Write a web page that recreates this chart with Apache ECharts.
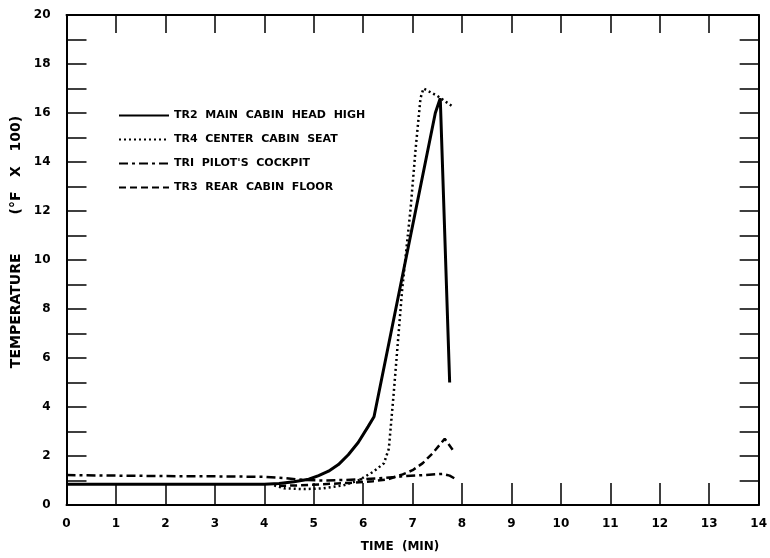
<!DOCTYPE html>
<html>
<head>
<meta charset="utf-8">
<script src="https://cdn.jsdelivr.net/npm/echarts@6/dist/echarts.min.js"></script>
<style>
html,body{margin:0;padding:0;background:#fff;overflow:hidden;}
#chart{width:770px;height:558px;}
</style>
</head>
<body>
<div id="chart"></div>
<script>
var xTicks = [0,1,2,3,4,5,6,7,8,9,10,11,12,13,14];
var yTicks = [0,2,4,6,8,10,12,14,16,18,20];

var seriesNames = ["TR2  MAIN  CABIN  HEAD  HIGH", "TR4  CENTER  CABIN  SEAT", "TRI  PILOT'S  COCKPIT", "TR3  REAR  CABIN  FLOOR"];

var tr2Time = [0,1,2,3,4,4.3,4.6,4.9,5.1,5.3,5.5,5.7,5.9,6.1,6.22,6.5,6.86,7.06,7.26,7.46,7.56,7.75];
var tr2Temp = [0.85,0.85,0.85,0.85,0.85,0.88,0.95,1.05,1.2,1.38,1.65,2.05,2.55,3.2,3.6,6.4,10,12,14,16,16.6,5.0];

var tr4Time = [4.2,4.4,4.8,5.2,5.6,5.9,6.2,6.42,6.52,6.62,6.79,6.96,7.06,7.16,7.22,7.5,7.82];
var tr4Temp = [0.8,0.68,0.65,0.68,0.8,1.0,1.35,1.7,2.3,4.6,8.8,12.1,14.5,16.6,17.0,16.7,16.25];

var tr1Time = [0,1,2,3,4,4.4,4.8,5.2,5.6,6,6.4,6.8,7.2,7.6,7.75,7.88];
var tr1Temp = [1.22,1.2,1.18,1.17,1.15,1.1,1.02,1.0,1.02,1.05,1.1,1.17,1.22,1.27,1.2,1.05];

var tr3Time = [4.3,4.7,5.2,5.7,6.2,6.5,6.8,7.0,7.2,7.4,7.65,7.83];
var tr3Temp = [0.78,0.8,0.85,0.9,0.97,1.05,1.25,1.42,1.7,2.1,2.7,2.2];

function pairs(xs, ys){ return xs.map(function(x,i){ return [x, ys[i]]; }); }

var FONT = 'DejaVu Sans';
var chart = echarts.init(document.getElementById('chart'));
var lineCommon = {type:'line', showSymbol:false, symbol:'none', smooth:false, xAxisIndex:0, yAxisIndex:0};

chart.setOption({
  animation:false,
  backgroundColor:'#fff',
  grid:{left:66.5, right:2, top:15, bottom:49},
  legend:{
    orient:'vertical', left:113, top:105, itemWidth:50, itemHeight:10, itemGap:13, padding:5,
    itemStyle:{opacity:0},
    textStyle:{fontFamily:FONT, fontWeight:'bold', fontSize:11, color:'#000'},
    data:seriesNames
  },
  xAxis:[{
    type:'value', min:0, max:14, interval:1, position:'bottom',
    axisLine:{onZero:false, lineStyle:{color:'#000', width:2}},
    axisTick:{inside:true, length:22, lineStyle:{color:'#000', width:1.5}},
    axisLabel:{margin:13, color:'#000', fontFamily:FONT, fontWeight:'bold', fontSize:12,
      formatter:function(v){ return xTicks.indexOf(v) >= 0 ? String(v) : ''; }},
    splitLine:{show:false},
    name:'TIME  (MIN)', nameLocation:'middle', nameGap:36,
    nameTextStyle:{color:'#000', fontFamily:FONT, fontWeight:'bold', fontSize:12, padding:[0,25,0,0]}
  },{
    type:'value', min:0, max:14, interval:1, position:'top',
    axisLine:{onZero:false, lineStyle:{color:'#000', width:2}},
    axisTick:{inside:true, length:18, lineStyle:{color:'#000', width:1.5}},
    axisLabel:{show:false}, splitLine:{show:false}
  }],
  yAxis:[{
    type:'value', min:0, max:20, interval:1, position:'left',
    axisLine:{onZero:false, lineStyle:{color:'#000', width:2}},
    axisTick:{inside:true, length:20, lineStyle:{color:'#000', width:1.5}},
    axisLabel:{margin:16, color:'#000', fontFamily:FONT, fontWeight:'bold', fontSize:12,
      formatter:function(v){ return yTicks.indexOf(v) >= 0 ? String(v) : ''; }},
    splitLine:{show:false},
    name:'TEMPERATURE        (°F   X   100)', nameLocation:'middle', nameGap:37,
    nameTextStyle:{color:'#000', fontFamily:FONT, fontWeight:'bold', fontSize:14, padding:[0,0,0,36]}
  },{
    type:'value', min:0, max:20, interval:1, position:'right',
    axisLine:{onZero:false, lineStyle:{color:'#000', width:2}},
    axisTick:{inside:true, length:19, lineStyle:{color:'#000', width:1.5}},
    axisLabel:{show:false}, splitLine:{show:false}
  }],
  series:[
    Object.assign({}, lineCommon, {name:seriesNames[0], data:pairs(tr2Time, tr2Temp),
      lineStyle:{color:'#000', width:3, type:'solid'}, itemStyle:{color:'#000'}}),
    Object.assign({}, lineCommon, {name:seriesNames[1], data:pairs(tr4Time, tr4Temp),
      lineStyle:{color:'#000', width:2.5, type:[2,3]}, itemStyle:{color:'#000'}}),
    Object.assign({}, lineCommon, {name:seriesNames[2], data:pairs(tr1Time, tr1Temp),
      lineStyle:{color:'#000', width:2.5, type:[9,4,3,4]}, itemStyle:{color:'#000'}}),
    Object.assign({}, lineCommon, {name:seriesNames[3], data:pairs(tr3Time, tr3Temp),
      lineStyle:{color:'#000', width:2.5, type:[7,4]}, itemStyle:{color:'#000'}})
  ]
});
</script>
</body>
</html>
